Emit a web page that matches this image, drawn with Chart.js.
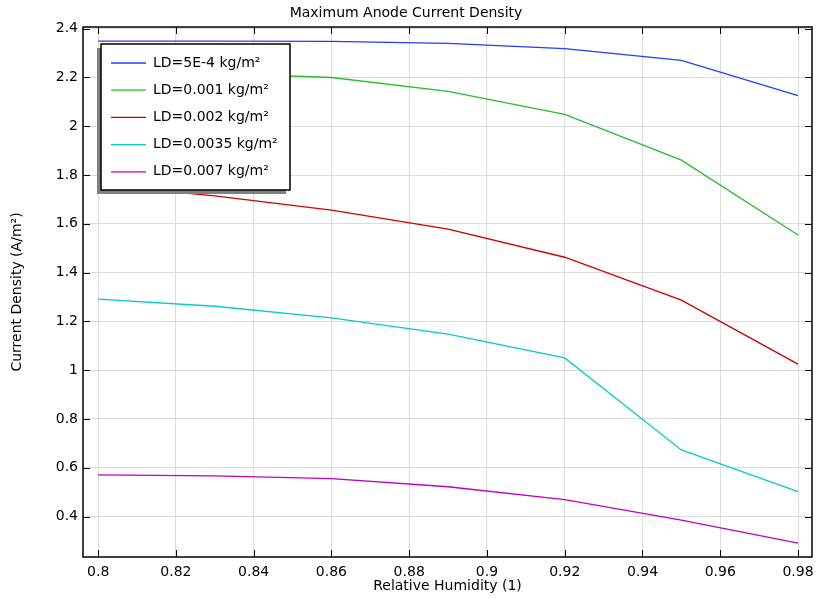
<!DOCTYPE html>
<html>
<head>
<meta charset="utf-8">
<script src="https://cdn.jsdelivr.net/npm/chart.js@4.4.0/dist/chart.umd.min.js"></script>
<style>
  html, body { margin: 0; padding: 0; background: #fff; }
</style>
</head>
<body>
<canvas id="chart" width="817" height="598"></canvas>
<script>
// values
const humidity = [0.8, 0.83, 0.86, 0.89, 0.92, 0.95, 0.98];
const ld5e4  = [2.349, 2.349, 2.348, 2.340, 2.318, 2.270, 2.126];
const ld001  = [2.230, 2.218, 2.200, 2.143, 2.049, 1.861, 1.554];
const ld002  = [1.760, 1.715, 1.656, 1.578, 1.463, 1.287, 1.025];
const ld0035 = [1.291, 1.262, 1.214, 1.148, 1.050, 0.673, 0.502];
const ld007  = [0.571, 0.567, 0.555, 0.522, 0.469, 0.385, 0.291];

const seriesLabels = ['LD=5E-4 kg/m²', 'LD=0.001 kg/m²', 'LD=0.002 kg/m²', 'LD=0.0035 kg/m²', 'LD=0.007 kg/m²'];
const seriesColors = ['#1f3fff', '#2cb92c', '#cf0000', '#00cccc', '#bf00bf'];

const xTicks = [0.8, 0.82, 0.84, 0.86, 0.88, 0.9, 0.92, 0.94, 0.96, 0.98];
const yTicks = [0.4, 0.6, 0.8, 1, 1.2, 1.4, 1.6, 1.8, 2, 2.2, 2.4];

const font = { family: 'DejaVu Sans', size: 14 };

function pts(ys) {
  return humidity.map((x, i) => ({ x: x, y: ys[i] }));
}

const allSeries = [ld5e4, ld001, ld002, ld0035, ld007];
const datasets = allSeries.map((ys, i) => ({
  label: seriesLabels[i],
  data: pts(ys),
  borderColor: seriesColors[i],
  borderWidth: 1.3,
  pointRadius: 0,
  tension: 0,
  fill: false
}));

// frame with inward ticks on all four sides
const framePlugin = {
  id: 'frame',
  afterDatasetsDraw(chart) {
    const { ctx, chartArea: a, scales } = chart;
    const len = 7;
    ctx.save();
    ctx.strokeStyle = '#000';
    ctx.lineWidth = 1;
    xTicks.forEach(v => {
      const px = Math.round(scales.x.getPixelForValue(v)) + 0.5;
      ctx.beginPath();
      ctx.moveTo(px, a.bottom); ctx.lineTo(px, a.bottom - len);
      ctx.moveTo(px, a.top); ctx.lineTo(px, a.top + len);
      ctx.stroke();
    });
    yTicks.forEach(v => {
      const py = Math.round(scales.y.getPixelForValue(v)) + 0.5;
      ctx.beginPath();
      ctx.moveTo(a.left, py); ctx.lineTo(a.left + len, py);
      ctx.moveTo(a.right, py); ctx.lineTo(a.right - len, py);
      ctx.stroke();
    });
    ctx.lineWidth = 1.5;
    ctx.strokeRect(a.left, a.top, a.right - a.left, a.bottom - a.top);
    ctx.restore();
  }
};

// boxed legend with a gray drop shadow inside the plot
const legendBoxPlugin = {
  id: 'legendBox',
  afterDraw(chart) {
    const { ctx, chartArea: a } = chart;
    const x = a.left + 18, y = a.top + 17, w = 189, h = 146;
    ctx.save();
    ctx.fillStyle = '#808080';
    ctx.fillRect(x - 4, y + 4, w, h);
    ctx.fillStyle = '#fff';
    ctx.fillRect(x, y, w, h);
    ctx.strokeStyle = '#000';
    ctx.lineWidth = 1.5;
    ctx.strokeRect(x, y, w, h);
    ctx.font = '14px "DejaVu Sans"';
    ctx.textBaseline = 'middle';
    chart.data.datasets.forEach((ds, i) => {
      const ry = y + 19 + i * 27.2;
      ctx.strokeStyle = ds.borderColor;
      ctx.lineWidth = 1.3;
      ctx.beginPath();
      ctx.moveTo(x + 10, ry); ctx.lineTo(x + 45, ry);
      ctx.stroke();
      ctx.fillStyle = '#000';
      ctx.fillText(ds.label, x + 52, ry);
    });
    ctx.restore();
  }
};

new Chart(document.getElementById('chart'), {
  type: 'line',
  data: { datasets: datasets },
  options: {
    responsive: false,
    animation: false,
    layout: { padding: { left: 0, right: 5, top: 0, bottom: 0 } },
    plugins: {
      legend: { display: false },
      tooltip: { enabled: false },
      title: {
        display: true,
        text: 'Maximum Anode Current Density',
        color: '#000',
        font: { family: 'DejaVu Sans', size: 14, weight: 'normal' },
        padding: { top: 4.6, bottom: 5.6 }
      }
    },
    scales: {
      x: {
        type: 'linear',
        min: 0.7961,
        max: 0.9836,
        afterBuildTicks(scale) { scale.ticks = xTicks.map(v => ({ value: v })); },
        afterFit(scale) {
          scale.height = 41;
          scale.paddingLeft = 0;
          scale.paddingRight = 0;
        },
        grid: { color: '#dcdcdc', drawTicks: false },
        border: { display: false },
        ticks: {
          color: '#000', font: font, padding: 7, maxRotation: 0,
          callback: v => String(Math.round(v * 100) / 100)
        },
        title: {
          display: true, text: 'Relative Humidity (1)', color: '#000', font: font,
          padding: { top: 0, bottom: 3.6 }
        }
      },
      y: {
        type: 'linear',
        min: 0.234,
        max: 2.407,
        afterBuildTicks(scale) { scale.ticks = yTicks.map(v => ({ value: v })); },
        afterFit(scale) {
          scale.width = 83;
          scale.paddingTop = 0;
          scale.paddingBottom = 0;
        },
        grid: { color: '#dcdcdc', drawTicks: false },
        border: { display: false },
        ticks: {
          color: '#000', font: font, padding: 5,
          callback: v => String(Math.round(v * 10) / 10)
        },
        title: {
          display: true, text: 'Current Density (A/m²)', color: '#000', font: font,
          padding: { top: 8.6, bottom: 0 }
        }
      }
    }
  },
  plugins: [framePlugin, legendBoxPlugin]
});
</script>
</body>
</html>
